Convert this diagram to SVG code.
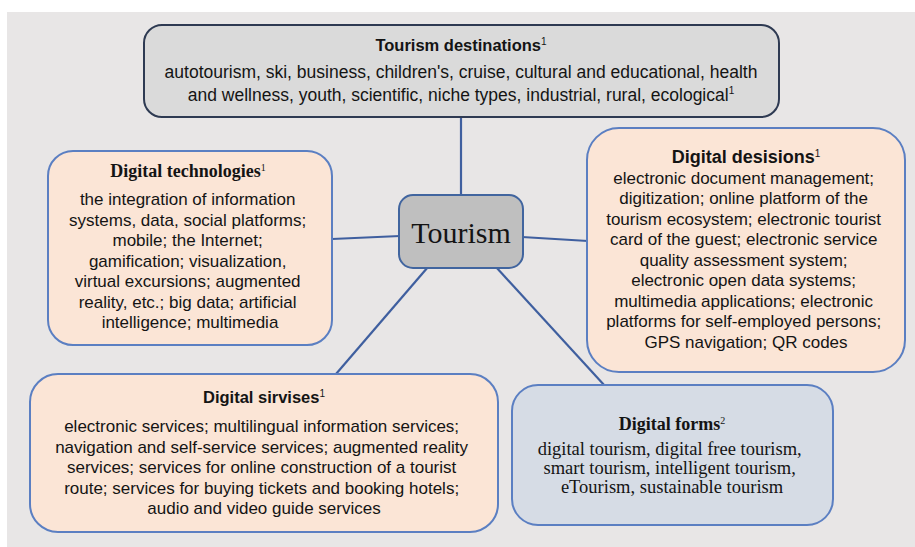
<svg xmlns="http://www.w3.org/2000/svg" width="915" height="547" viewBox="0 0 915 547">
<style>
.sans{font-family:"Liberation Sans",Arial,sans-serif;fill:#141414;}
.serif{font-family:"Liberation Serif","Times New Roman",serif;fill:#141414;}
.body{font-size:17px;}
.ttl{font-size:16.5px;font-weight:bold;}
.sttl{font-size:18px;font-weight:bold;}
.sup{font-size:10px;font-weight:normal;}
.peach{fill:#fbe5d6;stroke:#5b7fc2;stroke-width:2;}
.conn{stroke:#3f5f9f;stroke-width:2.2;fill:none;}
</style>
<rect x="0" y="0" width="915" height="547" fill="#ffffff"/>
<rect x="7" y="12" width="908" height="535" fill="#e8e6e6"/>
<g id="connectors">
<line class="conn" x1="461" y1="117" x2="461" y2="196"/>
<line class="conn" x1="332" y1="239" x2="400" y2="236"/>
<line class="conn" x1="522" y1="237" x2="588" y2="241"/>
<line class="conn" x1="428" y1="267" x2="336" y2="374"/>
<line class="conn" x1="496" y1="267" x2="605" y2="386"/>
</g>
<g id="tourism-destinations">
<rect x="144" y="25" width="635" height="92" rx="18" fill="#dadada" stroke="#2e3a52" stroke-width="2"/>
<text class="sans ttl" x="461" y="51" text-anchor="middle">Tourism destinations<tspan class="sup" dy="-6">1</tspan></text>
<text class="sans" font-size="17.5" x="461" y="78" text-anchor="middle">autotourism, ski, business, children's, cruise, cultural and educational, health</text>
<text class="sans" font-size="17.5" x="461" y="101" text-anchor="middle">and wellness, youth, scientific, niche types, industrial, rural, ecological<tspan class="sup" dy="-7">1</tspan></text>
</g>
<g id="tourism">
<rect x="399" y="195" width="124" height="73" rx="14" fill="#bfbfbf" stroke="#41659f" stroke-width="2"/>
<text class="serif" x="461" y="243" font-size="30" text-anchor="middle">Tourism</text>
</g>
<g id="digital-technologies">
<rect class="peach" x="48" y="151" width="284" height="194" rx="25"/>
<text class="serif sttl" x="188" y="177" text-anchor="middle">Digital technologies<tspan class="sup" dy="-6">1</tspan></text>
<text class="sans body" text-anchor="middle">
<tspan x="190" y="205">the integration of information</tspan>
<tspan x="190" y="225.5">systems, data, social platforms;</tspan>
<tspan x="190" y="246">mobile; the Internet;</tspan>
<tspan x="190" y="266.5">gamification; visualization,</tspan>
<tspan x="190" y="287">virtual excursions; augmented</tspan>
<tspan x="190" y="307.5">reality, etc.; big data; artificial</tspan>
<tspan x="190" y="328">intelligence; multimedia</tspan>
</text>
</g>
<g id="digital-desisions">
<rect class="peach" x="587" y="128" width="318" height="244" rx="32"/>
<text class="sans sttl" x="746" y="163" text-anchor="middle" font-size="17.5">Digital desisions<tspan class="sup" dy="-6">1</tspan></text>
<text class="sans body" text-anchor="middle">
<tspan x="746" y="183.5">electronic document management;</tspan>
<tspan x="746" y="204">digitization; online platform of the</tspan>
<tspan x="746" y="224.5">tourism ecosystem; electronic tourist</tspan>
<tspan x="746" y="245">card of the guest; electronic service</tspan>
<tspan x="746" y="265.5">quality assessment system;</tspan>
<tspan x="746" y="286">electronic open data systems;</tspan>
<tspan x="746" y="306.5">multimedia applications; electronic</tspan>
<tspan x="746" y="327">platforms for self-employed persons;</tspan>
<tspan x="746" y="347.5">GPS navigation; QR codes</tspan>
</text>
</g>
<g id="digital-sirvises">
<rect class="peach" x="30" y="374" width="468" height="158" rx="28"/>
<text class="sans ttl" x="264" y="403" text-anchor="middle">Digital sirvises<tspan class="sup" dy="-6">1</tspan></text>
<text class="sans body" text-anchor="middle">
<tspan x="264" y="432">electronic services; multilingual information services;</tspan>
<tspan x="264" y="452.5">navigation and self-service services; augmented reality</tspan>
<tspan x="264" y="473">services; services for online construction of a tourist</tspan>
<tspan x="264" y="493.5">route; services for buying tickets and booking hotels;</tspan>
<tspan x="264" y="514">audio and video guide services</tspan>
</text>
</g>
<g id="digital-forms">
<rect x="512" y="385" width="321" height="140" rx="26" fill="#d6dce5" stroke="#5b7fc2" stroke-width="2"/>
<text class="serif sttl" x="672" y="430" text-anchor="middle">Digital forms<tspan class="sup" dy="-6">2</tspan></text>
<text class="serif" font-size="18.5" text-anchor="middle">
<tspan x="672" y="455">digital tourism, digital free tourism,</tspan>
<tspan x="672" y="474">smart tourism, intelligent tourism,</tspan>
<tspan x="672" y="493">eTourism, sustainable tourism</tspan>
</text>
</g>
</svg>
